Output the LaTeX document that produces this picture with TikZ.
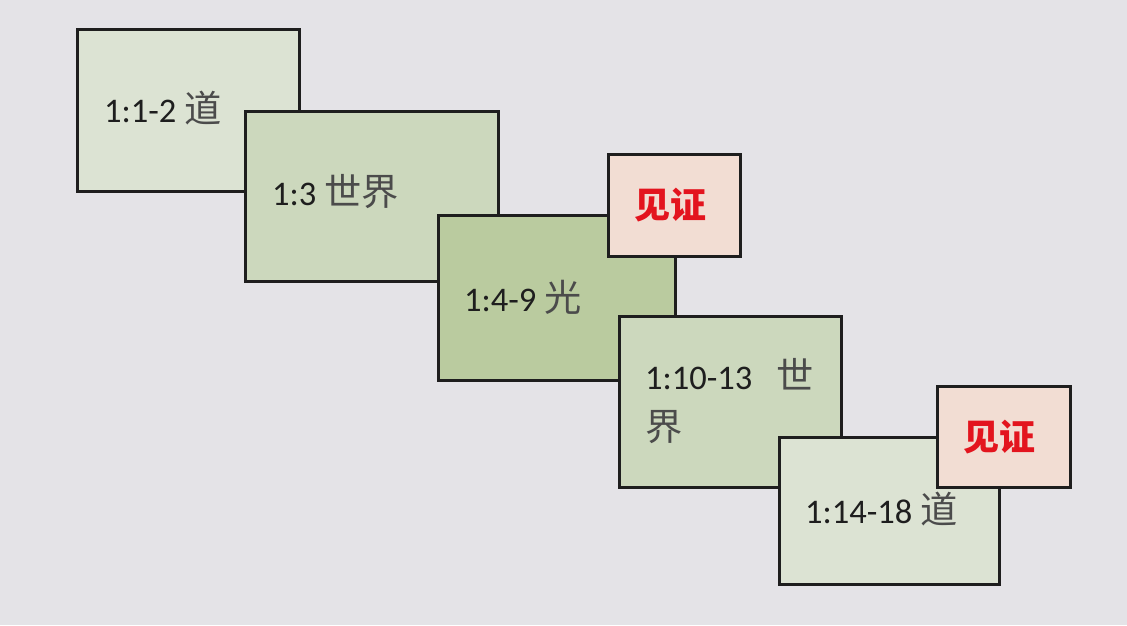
\documentclass[tikz,border=0pt]{standalone}
\usepackage{fontspec}
\setmainfont{Carlito}
\newfontfamily\cjk[Scale=1.08]{Noto Sans CJK SC}
\newfontfamily\cjkw{Noto Sans CJK SC}
\definecolor{bg}{HTML}{E4E3E7}
\definecolor{gA}{HTML}{DCE3D3}
\definecolor{gB}{HTML}{CCD8BD}
\definecolor{gC}{HTML}{BACB9F}
\definecolor{pk}{HTML}{F2DDD3}
\definecolor{rd}{HTML}{E3141E}
\definecolor{ink}{HTML}{1E1E1E}
\begin{document}
\begin{tikzpicture}[x=1pt,y=-1pt,
  box/.style={draw=ink,line width=2.6pt,rectangle,anchor=north west,inner sep=0pt},
  lbl/.style={anchor=base west,inner sep=0pt,text=ink,font=\fontsize{34.5}{40}\selectfont},
  wit/.style={inner sep=0pt,text=rd,font=\fontsize{36}{40}\selectfont\cjkw\bfseries}]
\fill[bg] (0,0) rectangle (1127,625);
\useasboundingbox (0,0) rectangle (1127,625);
% box 1
\node[box,fill=gA,minimum width=222pt,minimum height=162pt] (b1) at (76,28) {};
\node[lbl] (t1) at (104,122) {1:1-2 {\cjk\color{ink!80}道}};
% box 2
\node[box,fill=gB,minimum width=253pt,minimum height=170pt] (b2) at (244,110) {};
\node[lbl] (t2) at (272,205) {1:3 {\cjk\color{ink!80}世界}};
% box 3
\node[box,fill=gC,minimum width=237pt,minimum height=165pt] (b3) at (437,214) {};
\node[lbl] (t3) at (464,311) {1:4-9 {\cjk\color{ink!80}光}};
% witness 1
\node[box,fill=pk,minimum width=132pt,minimum height=102pt] (w1) at (607,153) {};
\node[wit] (wt1) at ([xshift=-4pt]w1.center) {见证};
% box 4
\node[box,fill=gB,minimum width=222pt,minimum height=171pt] (b4) at (618,315) {};
\node[lbl] (t4) at (645,389) {1:10-13\hspace{24pt}{\cjk\color{ink!80}世}};
\node[lbl] (t4b) at (645,440) {{\cjk\color{ink!80}界}};
% box 5
\node[box,fill=gA,minimum width=220pt,minimum height=147pt] (b5) at (778,436) {};
\node[lbl] (t5) at (805,523) {1:14-18 {\cjk\color{ink!80}道}};
% witness 2
\node[box,fill=pk,minimum width=133pt,minimum height=101pt] (w2) at (936,385) {};
\node[wit] (wt2) at ([xshift=-4pt]w2.center) {见证};
\end{tikzpicture}
\end{document}
